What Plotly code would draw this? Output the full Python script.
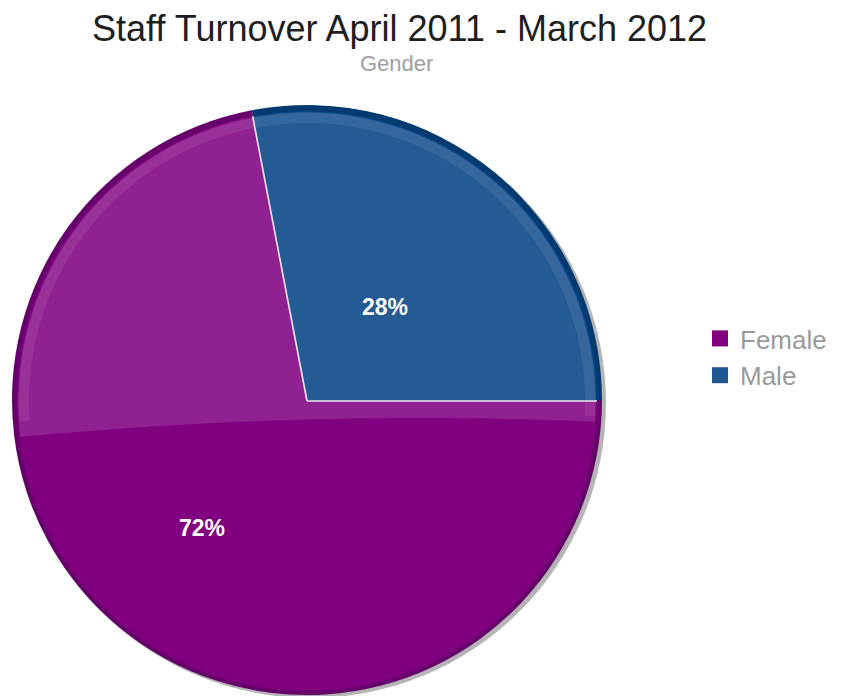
import numpy as np
import plotly.graph_objects as go

# Staff turnover by gender, April 2011 - March 2012
genders = ["Female", "Male"]
shares = [72, 28]
face_colors = ["#800080", "#044385"]
legend_colors = ["#800080", "#1f5690"]
rim_colors = ["#66006a", "#003a70"]

W, H = 845, 696
CX, CY, R = 307, 401, 290  # pie face centre and radius in pixels


def px(x):
    return x / W


def py(y):
    return 1 - y / H


fig = go.Figure()

# darker outer ring that gives the pie its bevelled edge
fig.add_trace(go.Pie(
    labels=genders, values=shares, sort=False, direction="clockwise", rotation=90,
    marker=dict(colors=rim_colors, line=dict(width=0)),
    textinfo="none", hoverinfo="skip", showlegend=False,
    domain=dict(x=[px(12), px(602)], y=[py(695), py(105)]),
))

# main pie face
fig.add_trace(go.Pie(
    labels=genders, values=shares, sort=False, direction="clockwise", rotation=90,
    marker=dict(colors=face_colors, line=dict(width=0)),
    textinfo="none", showlegend=False,
    domain=dict(x=[px(CX - R), px(CX + R)], y=[py(CY + R), py(CY - R)]),
))

# legend entries with large square swatches
for name, col in zip(genders, legend_colors):
    fig.add_trace(go.Scatter(
        x=[None], y=[None], mode="markers", name=name,
        marker=dict(symbol="square", size=25, color=col),
        hoverinfo="skip",
    ))

# slice boundaries and percentage labels, derived from the shares
total = sum(shares)
fracs = [v / total for v in shares]
cum = np.cumsum([0] + fracs)
shapes = []
annotations = []
for c in cum[:-1]:
    a = np.radians(-360 * c)
    shapes.append(dict(type="line", xref="paper", yref="paper", layer="above",
                       x0=px(CX), y0=py(CY),
                       x1=px(CX + R * np.cos(a)), y1=py(CY - R * np.sin(a)),
                       line=dict(color="#efe6ef", width=1.6)))

label_radius = [0.57, 0.42]
for i, v in enumerate(shares):
    mid = np.radians(-360 * (cum[i] + cum[i + 1]) / 2)
    rr = label_radius[i] * R
    annotations.append(dict(
        text=f"{v}%", x=px(CX + rr * np.cos(mid)), y=py(CY - rr * np.sin(mid)),
        xref="paper", yref="paper", showarrow=False, xanchor="center", yanchor="middle",
        font=dict(family="Arial", size=23, color="white", weight="bold")))

# glossy highlight over the upper part of the face
rg = R - 1
ang = np.radians(np.linspace(187.1, -4.2, 80))
arc = [(CX + rg * np.cos(a), CY - rg * np.sin(a)) for a in ang]
xs = np.linspace(596, 19, 60)
curve = [(x, 418 + 1.19e-4 * (x - 420) ** 2) for x in xs]
gloss = "M " + " L ".join(f"{px(x):.5f},{py(y):.5f}" for x, y in arc + curve) + " Z"

# light band just inside the rim
ang2 = np.radians(np.linspace(184, -3, 90))
band = "M " + " L ".join(
    f"{px(CX + (R - 7) * np.cos(a)):.5f},{py(CY - (R - 7) * np.sin(a)):.5f}" for a in ang2)

shapes = [
    # soft drop shadow behind the pie
    dict(type="circle", xref="paper", yref="paper", layer="below",
         x0=px(15), x1=px(606), y0=py(698), y1=py(108),
         fillcolor="rgba(120,120,120,0.55)", line=dict(width=0)),
    dict(type="path", xref="paper", yref="paper", path=gloss, layer="above",
         fillcolor="rgba(255,255,255,0.13)", line=dict(width=0)),
    dict(type="path", xref="paper", yref="paper", path=band, layer="above",
         line=dict(color="rgba(255,255,255,0.08)", width=10)),
] + shapes

annotations += [
    dict(text="Staff Turnover April 2011 - March 2012", x=px(399), y=py(28),
         xref="paper", yref="paper", showarrow=False, xanchor="center", yanchor="middle",
         font=dict(family="Arial", size=36, color="#1e1e1e")),
    dict(text="Gender", x=px(396), y=py(63),
         xref="paper", yref="paper", showarrow=False, xanchor="center", yanchor="middle",
         font=dict(family="Arial", size=22, color="#a0a0a0")),
]

fig.update_layout(
    width=W, height=H,
    margin=dict(l=0, r=0, t=0, b=0),
    paper_bgcolor="white", plot_bgcolor="white",
    xaxis=dict(visible=False), yaxis=dict(visible=False),
    shapes=shapes,
    annotations=annotations,
    showlegend=True,
    legend=dict(x=px(700), y=py(357), xanchor="left", yanchor="middle",
                itemsizing="trace", tracegroupgap=0,
                font=dict(family="Arial", size=26, color="#9a9a9a"),
                bgcolor="rgba(0,0,0,0)"),
)

fig.write_html("out.html")
